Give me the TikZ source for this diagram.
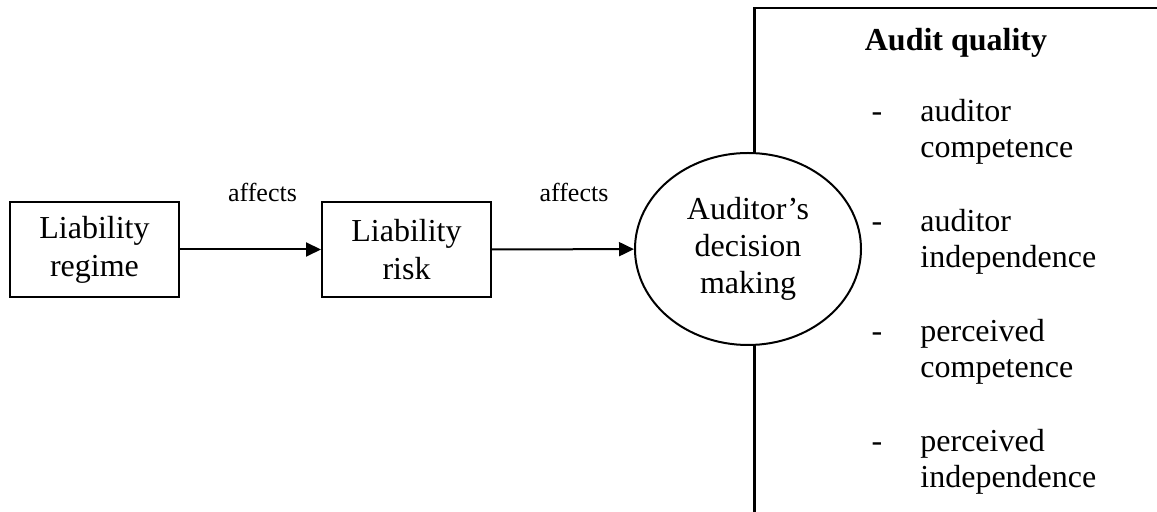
\documentclass[tikz,border=0pt]{standalone}
\usepackage{fontspec}
\setmainfont{Liberation Serif}
\usetikzlibrary{arrows.meta,shapes.geometric}

\tikzset{
	factor/.style={draw, line width=1pt, rectangle, minimum width=84.5pt, minimum height=47.5pt, align=center, inner sep=0pt, font=\fontsize{16}{19}\selectfont},
	decision/.style={draw, line width=1pt, ellipse, fill=white, minimum width=113pt, minimum height=96pt, align=center, inner sep=0pt, font=\fontsize{16}{18.5}\selectfont},
	affect/.style={line width=1pt, -{Triangle[length=7.5pt,width=7pt]}},
	affectlabel/.style={font=\fontsize{13}{15}\selectfont, above=20pt},
	qualityline/.style={line width=1.2pt},
	itemtext/.style={align=left, anchor=base west, inner sep=0pt, font=\fontsize{16}{18}\selectfont},
	itemdash/.style={anchor=base, inner sep=0pt, font=\fontsize{16}{18}\selectfont}
}

\begin{document}
\begin{tikzpicture}[x=0.5pt, y=-0.5pt]
	\useasboundingbox (0,0) rectangle (1157,512);

	% audit quality frame, open at the right and at the bottom
	\coordinate (qualityend) at (1157,8);
	\coordinate (qualitycorner) at (754.5,8);
	\coordinate (qualitybottom) at (754.5,512);
	\draw[qualityline] (qualityend) -- (qualitycorner) -- (qualitybottom);

	\node[anchor=base, inner sep=0pt, font=\fontsize{16}{18}\selectfont\bfseries] (quality) at (956,51) {Audit quality};
	\foreach \y/\first/\second [count=\i] in {122/auditor/competence, 232/auditor/independence, 342/perceived/competence, 452/perceived/independence} {
		\node[itemdash] (dash\i) at (877,\y) {-};
		\node[itemtext] (item\i) at (920,\y+36) {\first\\\second};
	}

	\node[factor] (regime) at (94.5,249.5) {Liability\\regime};
	\node[factor] (risk) at (406.5,249.5) {Liability\\risk};
	\node[decision] (decision) at (748,249) {Auditor’s\\decision\\making};

	\draw[affect] (regime) -- node[affectlabel, xshift=6pt] {affects} (risk);
	\draw[affect] (risk) -- node[affectlabel, xshift=5.5pt] {affects} (decision);
\end{tikzpicture}
\end{document}
